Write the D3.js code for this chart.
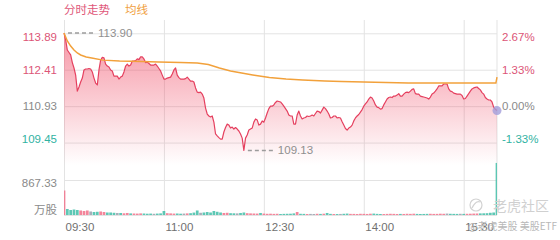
<!DOCTYPE html>
<html>
<head>
<meta charset="utf-8">
<script src="https://cdn.jsdelivr.net/npm/d3@7"></script>
<style>
body { margin: 0; background: #fff; }
text { font-family: "Liberation Sans", Arial, "Noto Sans CJK SC", sans-serif; }
</style>
</head>
<body>
<div id="chart"></div>
<script>
var prevClose = 110.93

// price every 90 seconds, 09:30 .. 16:00
var priceValues = [113.90, 113.62, 113.21, 113.11, 113.01, 112.70, 112.48, 112.19, 111.54, 111.71,
	111.91, 112.07, 112.40, 112.44, 112.44, 112.46, 112.44, 112.32, 112.07, 111.87,
	111.79, 112.40, 112.80, 112.91, 112.89, 112.64, 112.56, 112.52, 112.40, 112.36,
	112.15, 112.15, 112.15, 112.03, 112.11, 112.15, 112.32, 112.56, 112.64, 112.56,
	112.60, 112.76, 112.76, 112.78, 112.85, 112.82, 112.93, 112.93, 112.85, 112.70,
	112.72, 112.66, 112.60, 112.60, 112.60, 112.64, 112.56, 112.46, 112.36, 112.19,
	112.03, 112.03, 112.07, 112.09, 112.11, 112.24, 112.40, 112.48, 112.19, 112.09,
	112.03, 112.03, 112.03, 112.05, 112.11, 112.03, 111.95, 111.95, 111.91, 111.67,
	111.50, 111.48, 111.50, 111.42, 111.26, 110.85, 110.61, 110.53, 110.49, 110.53,
	110.28, 109.80, 109.72, 109.65, 109.59, 109.59, 109.88, 110.06, 110.20, 110.16,
	110.04, 110.08, 110.00, 110.06, 110.00, 109.92, 109.80, 109.63, 109.13, 109.63,
	109.76, 109.96, 110.00, 110.04, 110.28, 110.41, 110.37, 110.16, 110.20, 110.33,
	110.28, 110.45, 110.65, 110.83, 110.93, 110.93, 110.98, 111.08, 111.14, 111.12,
	111.10, 111.02, 110.93, 110.83, 110.73, 110.57, 110.53, 110.53, 110.20, 110.20,
	110.57, 110.73, 110.53, 110.41, 110.45, 110.47, 110.53, 110.51, 110.53, 110.57,
	110.53, 110.63, 110.73, 110.71, 110.65, 110.77, 110.89, 110.83, 110.73, 110.61,
	110.45, 110.47, 110.53, 110.53, 110.45, 110.47, 110.45, 110.30, 110.16, 110.02,
	109.96, 110.04, 110.08, 110.16, 110.33, 110.45, 110.53, 110.59, 110.69, 110.79,
	110.93, 111.02, 111.10, 111.22, 111.30, 111.26, 111.14, 110.98, 110.89, 110.87,
	110.81, 110.83, 110.98, 111.10, 111.22, 111.28, 111.30, 111.28, 111.34, 111.34,
	111.38, 111.44, 111.34, 111.34, 111.42, 111.48, 111.50, 111.48, 111.54, 111.61,
	111.63, 111.44, 111.42, 111.42, 111.34, 111.32, 111.30, 111.28, 111.26, 111.22,
	111.30, 111.42, 111.46, 111.54, 111.63, 111.75, 111.75, 111.75, 111.83, 111.83,
	111.83, 111.63, 111.54, 111.52, 111.46, 111.44, 111.42, 111.42, 111.42, 111.36,
	111.22, 111.24, 111.34, 111.44, 111.54, 111.63, 111.67, 111.69, 111.71, 111.65,
	111.59, 111.48, 111.42, 111.28, 111.22, 111.18, 111.18, 111.10, 110.89, 110.80,
	110.75]

var avgMinutes = [0, 3, 6, 9, 12, 15, 20, 25, 35, 50, 70, 85, 105, 120, 130, 140, 150, 160,
	170, 185, 200, 215, 235, 250, 270, 290, 310, 330, 360, 389, 390]
var avgValues = [113.90, 113.58, 113.37, 113.21, 113.09, 113.01, 112.93, 112.89, 112.80, 112.76,
	112.74, 112.72, 112.70, 112.68, 112.62, 112.48, 112.36, 112.28, 112.20, 112.09,
	112.03, 111.99, 111.95, 111.93, 111.91, 111.89, 111.87, 111.87, 111.87, 111.87, 112.11]

// volume (万股) per 3 minute bucket
var volValues = [607, 149, 124, 136, 124, 112, 99, 112, 87, 74,
	80, 87, 74, 62, 62, 55, 50, 50, 42, 50,
	40, 37, 35, 40, 37, 32, 35, 30, 35, 40,
	99, 45, 40, 35, 37, 32, 35, 40, 45, 60,
	112, 55, 62, 74, 62, 99, 80, 62, 50, 55,
	45, 42, 40, 50, 62, 45, 40, 37, 35, 50,
	35, 30, 32, 28, 30, 25, 28, 30, 32, 40,
	74, 30, 28, 25, 27, 25, 30, 27, 32, 50,
	28, 25, 24, 26, 30, 35, 28, 27, 25, 30,
	28, 26, 32, 35, 28, 25, 24, 27, 30, 28,
	25, 27, 26, 30, 28, 32, 27, 25, 26, 28,
	30, 27, 28, 32, 30, 35, 30, 28, 27, 30,
	28, 30, 32, 35, 37, 40, 42, 45, 55, 62,
	1290]

var timeLabels = ['09:30', '11:00', '12:30', '14:00', '15:30']
var priceTicks = [113.89, 112.41, 110.93, 109.45]
var pctLabels = ['2.67%', '1.33%', '0.00%', '-1.33%']
var volTicks = [0, 867.33]

var width = 560
var height = 240
var red = '#e5405f'
var upText = '#dc5577'
var downText = '#30b2a2'
var grayText = '#8a8a8a'

var parse = d3.timeParse('%H:%M')
var open = parse('09:30')
var close = parse('16:00')

var x = d3.scaleTime().domain([open, close]).range([64, 497])
var y = d3.scaleLinear().domain([107.97, 113.89]).range([179, 33.3])
var v = d3.scaleLinear().domain([0, 867.33]).range([215, 180])

function tp(i) { return d3.timeSecond.offset(open, i * 90) }
function tv(i) { return d3.timeMinute.offset(open, i * 3) }
function tickColor(d) { return d > prevClose ? upText : (d < prevClose ? downText : grayText) }

var svg = d3.select('#chart')
	.append('svg')
		.attr('width', width)
		.attr('height', height)

var defs = svg.append('defs')
var grad = defs.append('linearGradient')
	.attr('id', 'fade')
	.attr('gradientUnits', 'userSpaceOnUse')
	.attr('x1', 0).attr('x2', 0)
	.attr('y1', 30).attr('y2', 165)
grad.append('stop').attr('offset', 0).attr('stop-color', '#f04c66').attr('stop-opacity', 0.6)
grad.append('stop').attr('offset', 1).attr('stop-color', '#f04c66').attr('stop-opacity', 0)

defs.append('clipPath').attr('id', 'clip')
	.append('rect')
		.attr('x', 64).attr('y', 0)
		.attr('width', 433).attr('height', height)

// grids and axes
var gx = svg.append('g')
	.attr('transform', 'translate(0,215)')
	.call(d3.axisBottom(x)
		.tickValues(timeLabels.map(parse))
		.tickSize(-195)
		.tickPadding(8)
		.tickFormat(d3.timeFormat('%H:%M')))
gx.select('.domain').remove()
gx.selectAll('line').attr('stroke', '#e3e3e3')
gx.selectAll('text')
	.attr('text-anchor', 'start')
	.attr('x', 1)
	.attr('fill', '#707070')
	.style('font-size', '11.5px')

var gy = svg.append('g')
	.attr('transform', 'translate(64,0)')
	.call(d3.axisLeft(y)
		.tickValues(priceTicks)
		.tickSize(-433)
		.tickPadding(7)
		.tickFormat(d3.format('.2f')))
gy.select('.domain').remove()
gy.selectAll('line').attr('stroke', '#e3e3e3')
gy.selectAll('text')
	.attr('fill', tickColor)
	.attr('y', function(d, i) { return i == 0 ? 4 : (i == priceTicks.length - 1 ? -4 : 0) })
	.style('font-size', '11.5px')

var gr = svg.append('g')
	.attr('transform', 'translate(497,0)')
	.call(d3.axisRight(y)
		.tickValues(priceTicks)
		.tickSize(0)
		.tickPadding(5)
		.tickFormat(function(d, i) { return pctLabels[i] }))
gr.select('.domain').remove()
gr.selectAll('text')
	.attr('fill', tickColor)
	.attr('y', function(d, i) { return i == 0 ? 4 : (i == priceTicks.length - 1 ? -4 : 0) })
	.style('font-size', '11.5px')

var gv = svg.append('g')
	.attr('transform', 'translate(64,0)')
	.call(d3.axisLeft(v)
		.tickValues(volTicks)
		.tickSize(-433)
		.tickPadding(7)
		.tickFormat(function(d) { return d ? d3.format('.2f')(d) : '万股' }))
gv.select('.domain').remove()
gv.selectAll('line').attr('stroke', '#e3e3e3')
gv.selectAll('text')
	.attr('fill', grayText)
	.attr('y', function(d) { return d ? 3 : -5 })
	.style('font-size', '11.5px')

svg.append('line')
	.attr('x1', x(close)).attr('x2', x(close))
	.attr('y1', 20).attr('y2', 215)
	.attr('stroke', '#e3e3e3')

// price area and line
var area = d3.area()
	.x(function(d, i) { return x(tp(i)) })
	.y0(y.range()[0])
	.y1(function(d) { return y(d) })

svg.append('path')
	.datum(priceValues)
	.attr('d', area)
	.attr('fill', 'url(#fade)')

var line = d3.line()
	.x(function(d, i) { return x(tp(i)) })
	.y(function(d) { return y(d) })

svg.append('path')
	.datum(priceValues)
	.attr('d', line)
	.attr('fill', 'none')
	.attr('stroke', red)
	.attr('stroke-width', 1.2)
	.attr('stroke-linejoin', 'round')

var avgLine = d3.line()
	.x(function(d, i) { return x(d3.timeMinute.offset(open, avgMinutes[i])) })
	.y(function(d) { return y(d) })

svg.append('path')
	.datum(avgValues)
	.attr('d', avgLine)
	.attr('fill', 'none')
	.attr('stroke', '#f2a13b')
	.attr('stroke-width', 1.5)

// volume bars, coloured by the move of the bucket
var step = x(tv(1)) - x(tv(0))
svg.append('g')
	.attr('clip-path', 'url(#clip)')
	.attr('opacity', 0.85)
	.selectAll('rect')
	.data(volValues)
	.enter().append('rect')
		.attr('x', function(d, i) { return x(tv(i)) - step / 2 + 0.3 })
		.attr('width', step - 0.6)
		.attr('y', function(d) { return v(d) })
		.attr('height', function(d) { return v(0) - v(d) })
		.attr('fill', function(d, i) {
			var p = i ? priceValues[2 * i - 2] : prevClose
			var c = priceValues[2 * i]
			return c > p ? '#f2728a' : (c < p ? '#43bfa9' : '#98a0ad')
		})

// high / low marks
var hi = d3.maxIndex(priceValues)
var lo = d3.minIndex(priceValues)
;[hi, lo].forEach(function(i) {
	var px = x(tp(i))
	var py = y(priceValues[i])
	svg.append('line')
		.attr('x1', px + 4).attr('x2', px + 29)
		.attr('y1', py).attr('y2', py)
		.attr('stroke', '#9c9c9c')
		.attr('stroke-width', 1.5)
		.attr('stroke-dasharray', '4,3')
	svg.append('text')
		.attr('x', px + 34)
		.attr('y', py)
		.attr('dy', '0.35em')
		.attr('fill', '#8f8f8f')
		.style('font-size', '11.5px')
		.text(d3.format('.2f')(priceValues[i]))
})

var last = priceValues.length - 1
svg.append('circle')
	.attr('cx', x(tp(last)))
	.attr('cy', y(priceValues[last]))
	.attr('r', 4.5)
	.attr('fill', '#a29ddb')
	.attr('opacity', 0.8)

// title
svg.append('text')
	.attr('x', 64).attr('y', 10).attr('dy', '0.35em')
	.attr('fill', '#e0587a')
	.style('font-size', '11.5px')
	.style('font-family', '"Noto Sans CJK SC", sans-serif')
	.text('分时走势')
svg.append('text')
	.attr('x', 125).attr('y', 10).attr('dy', '0.35em')
	.attr('fill', '#f0a040')
	.style('font-size', '11.5px')
	.style('font-family', '"Noto Sans CJK SC", sans-serif')
	.text('均线')

// watermark
svg.append('circle')
	.attr('cx', 476).attr('cy', 205).attr('r', 6)
	.attr('fill', 'none')
	.attr('stroke', '#d2d2d2')
	.attr('stroke-width', 1.2)
svg.append('path')
	.attr('d', 'M472,208 Q476,200 480,202')
	.attr('fill', 'none')
	.attr('stroke', '#d2d2d2')
	.attr('stroke-width', 1.2)
svg.append('text')
	.attr('x', 493).attr('y', 206).attr('dy', '0.35em')
	.attr('fill', '#d0d0d0')
	.style('font-size', '14px')
	.style('font-family', '"Noto Sans CJK SC", sans-serif')
	.text('老虎社区')
svg.append('text')
	.attr('x', 468).attr('y', 226).attr('dy', '0.35em')
	.attr('fill', '#b8b8b8')
	.style('font-size', '10px')
	.style('font-family', '"Noto Sans CJK SC", sans-serif')
	.text('@老虎美股 美股ETF')
</script>
</body>
</html>
